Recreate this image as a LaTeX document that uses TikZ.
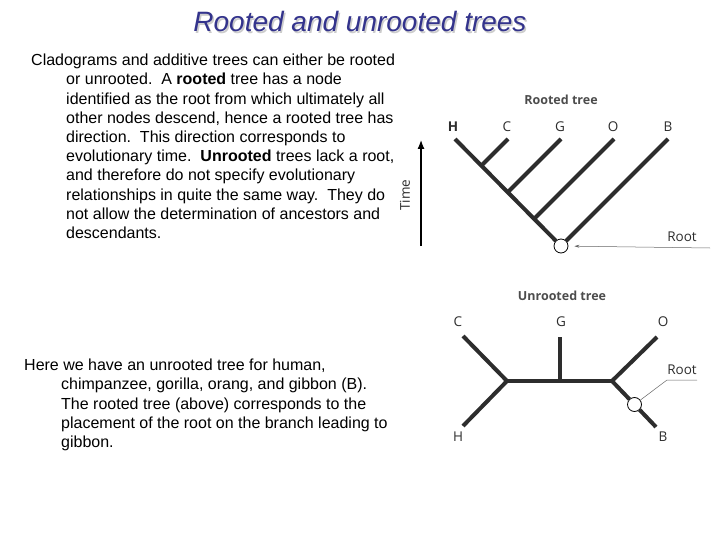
\documentclass[tikz,border=0pt]{standalone}
\usepackage{fontspec}
\setmainfont{Liberation Sans}
\newfontfamily\treefont{Open Sans}
\usetikzlibrary{arrows.meta}
\definecolor{titleblue}{RGB}{51,51,140}
\definecolor{inkgray}{RGB}{45,45,45}
\newcommand{\hind}{\hspace*{35pt}}

\begin{document}
\begin{tikzpicture}[x=1pt, y=-1pt,
    branch/.style={line width=4pt, inkgray},
    rootmark/.style={circle, draw=black, line width=0.8pt, fill=white, minimum size=14pt, inner sep=0pt},
    leaf/.style={font=\treefont\fontsize{13.5}{15}\selectfont, text=inkgray, inner sep=0pt},
    heading/.style={font=\treefont\bfseries\fontsize{12.5}{14}\selectfont, text=inkgray!85, inner sep=0pt},
    pointer/.style={gray!80!black, line width=0.5pt},
    prose/.style={anchor=north west, inner sep=0pt, align=left, font=\fontsize{16}{19.2}\selectfont}]
    \useasboundingbox (0,0) rectangle (720,540);

    % title with its shadow
    \node[text=gray!40, font=\itshape\fontsize{28}{32}\selectfont] (shadow) at (361.5,23.5) {Rooted and unrooted trees};
    \node[text=titleblue, font=\itshape\fontsize{28}{32}\selectfont] (title) at (360,22) {Rooted and unrooted trees};

    % text
    \node[prose] (para1) at (31,54) {Cladograms and additive trees can either be rooted\\
        \hind or unrooted.\ \ A \textbf{rooted} tree has a node\\
        \hind identified as the root from which ultimately all\\
        \hind other nodes descend, hence a rooted tree has\\
        \hind direction.\ \ This direction corresponds to\\
        \hind evolutionary time.\ \ \textbf{Unrooted} trees lack a root,\\
        \hind and therefore do not specify evolutionary\\
        \hind relationships in quite the same way.\ \ They do\\
        \hind not allow the determination of ancestors and\\
        \hind descendants.};
    \node[prose] (para2) at (24,359) {Here we have an unrooted tree for human,\\
        \hspace*{37pt}chimpanzee, gorilla, orang, and gibbon (B).\\
        \hspace*{37pt}The rooted tree (above) corresponds to the\\
        \hspace*{37pt}placement of the root on the branch leading to\\
        \hspace*{37pt}gibbon.};

    % rooted tree
    \node[heading] (rtitle) at (561,100) {Rooted tree};
    \coordinate (rH) at (455,139);
    \coordinate (rC) at (508,139);
    \coordinate (rG) at (561,139);
    \coordinate (rO) at (614,139);
    \coordinate (rB) at (668,139);
    \coordinate (jC) at (481.5,165.5);
    \coordinate (jG) at (508,192);
    \coordinate (jO) at (534.5,218.5);
    \node[rootmark] (rroot) at (561,246) {};
    \draw[branch] (rH) -- (rroot);
    \draw[branch] (rB) -- (rroot);
    \draw[branch] (rC) -- (jC);
    \draw[branch] (rG) -- (jG);
    \draw[branch] (rO) -- (jO);
    \node[leaf, font=\treefont\bfseries\fontsize{13.5}{15}\selectfont] (lH) at (453,127) {H};
    \node[leaf] (lC) at (507,127) {C};
    \node[leaf] (lG) at (560,127) {G};
    \node[leaf] (lO) at (613,127) {O};
    \node[leaf] (lB) at (668,127) {B};

    \coordinate (tlow) at (421,246);
    \coordinate (thigh) at (421,140);
    \draw[line width=1.2pt, -{Latex[length=9pt, width=7pt]}] (tlow) -- (thigh);
    \node[leaf, rotate=90] (time) at (405,195) {Time};

    \node[leaf] (rlabel) at (682,237) {Root};
    \coordinate (rtail) at (710,248);
    \draw[pointer, -{Stealth[length=5pt, width=3pt]}, shorten >=6pt] (rtail) -- (rroot);

    % unrooted tree
    \node[heading] (utitle) at (562,296) {Unrooted tree};
    \coordinate (uC) at (463,336);
    \coordinate (uH) at (463,426);
    \coordinate (uL) at (507,381);
    \coordinate (uG) at (560,337);
    \coordinate (uM) at (560,381);
    \coordinate (uR) at (612,381);
    \coordinate (uO) at (657,337);
    \coordinate (uB) at (656,427);
    \node[rootmark] (uroot) at (634.5,404.5) {};
    \draw[branch, line join=miter] (uC) -- (uL) -- (uH);
    \draw[branch] (uL) -- (uR);
    \draw[branch] (uG) -- (uM);
    \draw[branch] (uO) -- (uR);
    \draw[branch] (uR) -- (uroot);
    \draw[branch] (uroot) -- (uB);
    \node[leaf] (uCl) at (458,322) {C};
    \node[leaf] (uGl) at (561,322) {G};
    \node[leaf] (uOl) at (663,322) {O};
    \node[leaf] (uHl) at (458,437) {H};
    \node[leaf] (uBl) at (663,437) {B};

    \node[leaf] (ulabel) at (682,370) {Root};
    \coordinate (uknee) at (667,380);
    \coordinate (uend) at (697,380);
    \draw[pointer] (uroot) -- (uknee) -- (uend);
\end{tikzpicture}
\end{document}
